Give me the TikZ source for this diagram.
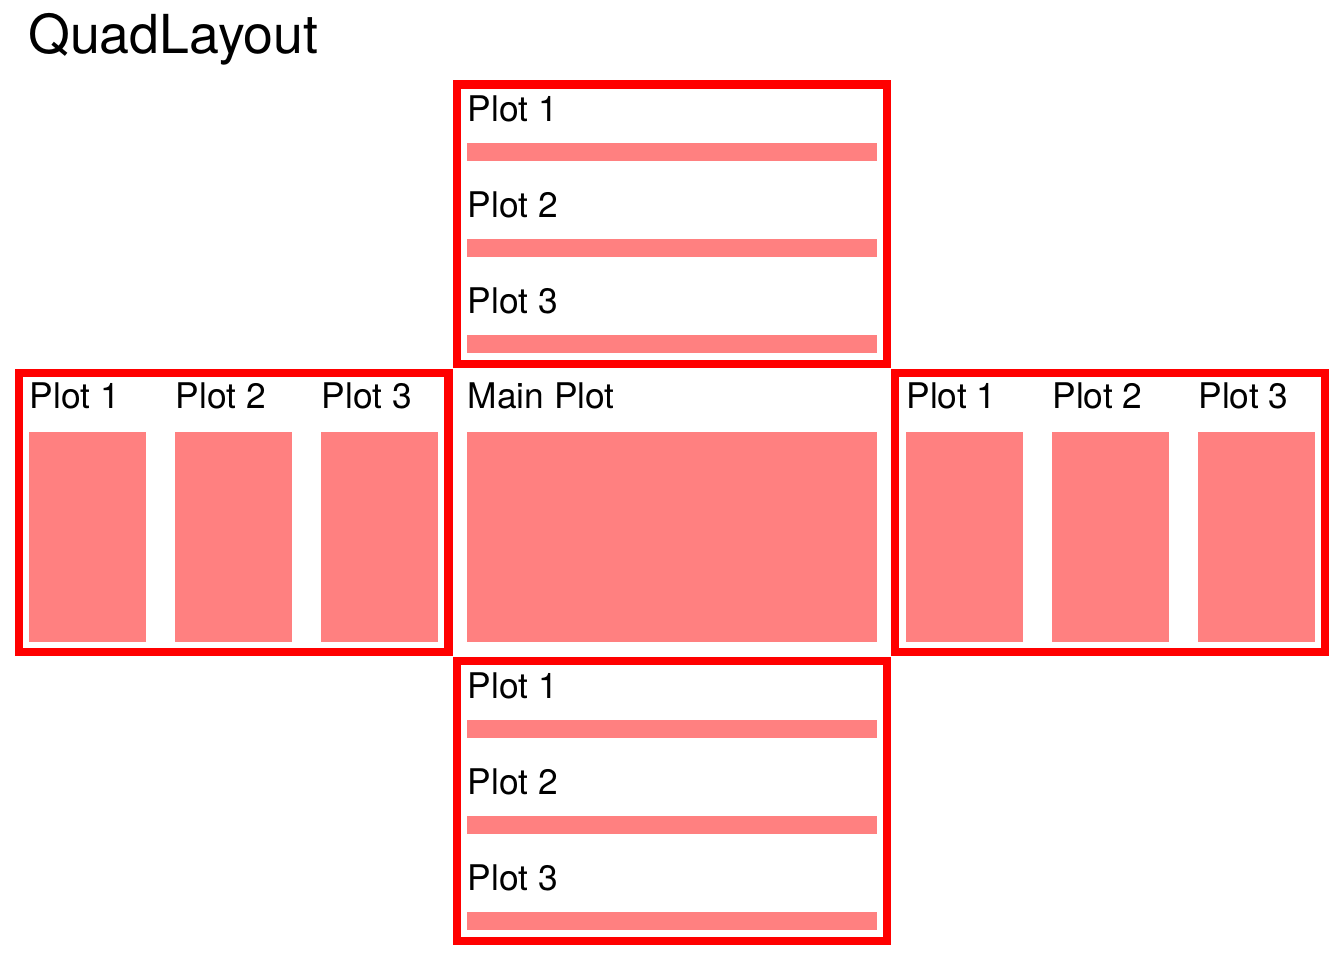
\documentclass[tikz,border=0pt]{standalone}
\usepackage{fontspec}
\setmainfont{TeX Gyre Heros}

\tikzset{every picture/.style={line width=0.75pt}}
\tikzset{frame/.style={draw={rgb, 255:red, 255; green, 0; blue, 0 }, line width=6.2pt},
  panel/.style={fill={rgb, 255:red, 255; green, 128; blue, 128 }},
  plotlbl/.style={anchor=base west, inner sep=0pt, font=\fontsize{26.5}{30}\selectfont},
  titlelbl/.style={anchor=base west, inner sep=0pt, font=\fontsize{40.3}{44}\selectfont}}

\begin{document}
\begin{tikzpicture}[x=0.75pt,y=0.75pt,yscale=-1,xscale=1]
\useasboundingbox (0,0) rectangle (1344,960);

%Shape: Rectangle [top frame] 
\draw [frame] (457,84.5) rectangle (886.8,364.2) ;
%Shape: Rectangle [left frame] 
\draw [frame] (19.2,372.8) rectangle (448.4,651.7) ;
%Shape: Rectangle [right frame] 
\draw [frame] (895.2,372.8) rectangle (1325.2,651.7) ;
%Shape: Rectangle [bottom frame] 
\draw [frame] (457,660.8) rectangle (886.8,940.8) ;

%Shape: Rectangle [top bars] 
\fill [panel] (467.3,143.3) rectangle (876.7,161) ;
\fill [panel] (467.3,239.3) rectangle (876.7,257) ;
\fill [panel] (467.3,335.3) rectangle (876.7,353) ;
%Shape: Rectangle [left columns] 
\fill [panel] (29.3,431.7) rectangle (146,641.7) ;
\fill [panel] (175.3,431.7) rectangle (292,641.7) ;
\fill [panel] (321.3,431.7) rectangle (438,641.7) ;
%Shape: Rectangle [main] 
\fill [panel] (467.3,431.7) rectangle (876.7,641.7) ;
%Shape: Rectangle [right columns] 
\fill [panel] (906,431.7) rectangle (1022.7,641.7) ;
\fill [panel] (1052,431.7) rectangle (1168.7,641.7) ;
\fill [panel] (1198,431.7) rectangle (1315,641.7) ;
%Shape: Rectangle [bottom bars] 
\fill [panel] (467.3,720) rectangle (876.7,738.3) ;
\fill [panel] (467.3,816) rectangle (876.7,834) ;
\fill [panel] (467.3,912) rectangle (876.7,930) ;

% Text Node
\draw (27.8,53) node [titlelbl] (title) {QuadLayout};
% Text Node
\draw (467.3,121.7) node [plotlbl] (top1) {Plot 1};
% Text Node
\draw (467.3,217.7) node [plotlbl] (top2) {Plot 2};
% Text Node
\draw (467.3,313.7) node [plotlbl] (top3) {Plot 3};
% Text Node
\draw (29.3,408.3) node [plotlbl] (left1) {Plot 1};
% Text Node
\draw (175.3,408.3) node [plotlbl] (left2) {Plot 2};
% Text Node
\draw (321.3,408.3) node [plotlbl] (left3) {Plot 3};
% Text Node
\draw (467.3,408.3) node [plotlbl] (main) {Main Plot};
% Text Node
\draw (906,408.3) node [plotlbl] (right1) {Plot 1};
% Text Node
\draw (1052,408.3) node [plotlbl] (right2) {Plot 2};
% Text Node
\draw (1198,408.3) node [plotlbl] (right3) {Plot 3};
% Text Node
\draw (467.3,698.3) node [plotlbl] (bot1) {Plot 1};
% Text Node
\draw (467.3,794.3) node [plotlbl] (bot2) {Plot 2};
% Text Node
\draw (467.3,890.3) node [plotlbl] (bot3) {Plot 3};

\end{tikzpicture}
\end{document}
